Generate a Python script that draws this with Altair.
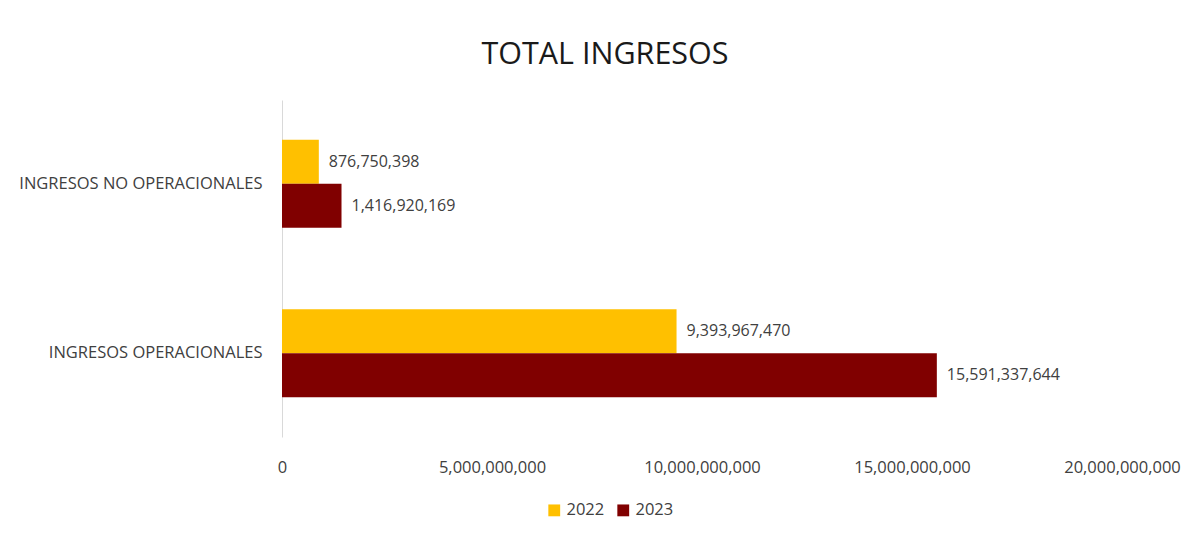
import altair as alt
import pandas as pd

categories = ["INGRESOS NO OPERACIONALES", "INGRESOS OPERACIONALES"]
years = ["2022", "2023"]
values_2022 = [876750398, 9393967470]
values_2023 = [1416920169, 15591337644]
x_ticks = [0, 5000000000, 10000000000, 15000000000, 20000000000]

rows = []
for i, c in enumerate(categories):
    rows.append({"cat": c, "year": "2022", "value": values_2022[i]})
    rows.append({"cat": c, "year": "2023", "value": values_2023[i]})
df = pd.DataFrame(rows)

FONT = "Open Sans, sans-serif"

y_enc = alt.Y("cat:N", sort=categories, title=None,
              scale=alt.Scale(paddingInner=0.482, paddingOuter=0.235),
              axis=alt.Axis(labelFontSize=16.5, labelColor="#404040", labelPadding=20,
                            ticks=False, domainColor="#d9d9d9", labelFont=FONT,
                            labelLimit=400))
x_enc = alt.X("value:Q", title=None,
              scale=alt.Scale(domain=[0, 20000000000], nice=False),
              axis=alt.Axis(values=x_ticks, format=",d", grid=False, domain=False, ticks=False,
                            labelFontSize=16.5, labelColor="#404040", labelPadding=22,
                            labelFont=FONT, labelFlush=False))

base = alt.Chart(df).encode(
    y=y_enc,
    x=x_enc,
    yOffset=alt.YOffset("year:N", sort=years),
)

bars = base.mark_bar().encode(
    color=alt.Color("year:N", sort=years,
                    scale=alt.Scale(domain=years, range=["#FFC000", "#800000"]),
                    legend=alt.Legend(title=None, orient="none", legendX=264, legendY=402,
                                      direction="horizontal", symbolType="square",
                                      symbolSize=140, labelFontSize=16.5, labelColor="#404040",
                                      labelFont=FONT, columnPadding=10, symbolStrokeWidth=0))
)

labels = base.mark_text(align="left", baseline="middle", dx=10, fontSize=16,
                        color="#404040", font=FONT).encode(
    text=alt.Text("value:Q", format=",d")
)

chart = alt.layer(bars, labels).properties(
    width=840, height=337,
    title=alt.Title("TOTAL INGRESOS", fontSize=30.5, fontWeight="normal", color="#1a1a1a",
                    font=FONT, anchor="middle", dx=-97, offset=30),
    autosize=alt.AutoSizeParams(type="none"),
    padding={"left": 274, "top": 92, "right": 65, "bottom": 96},
).configure_view(stroke=None).configure_scale(bandWithNestedOffsetPaddingInner=0)

chart.save("out.html", embed_options={"renderer": "svg", "actions": False})
